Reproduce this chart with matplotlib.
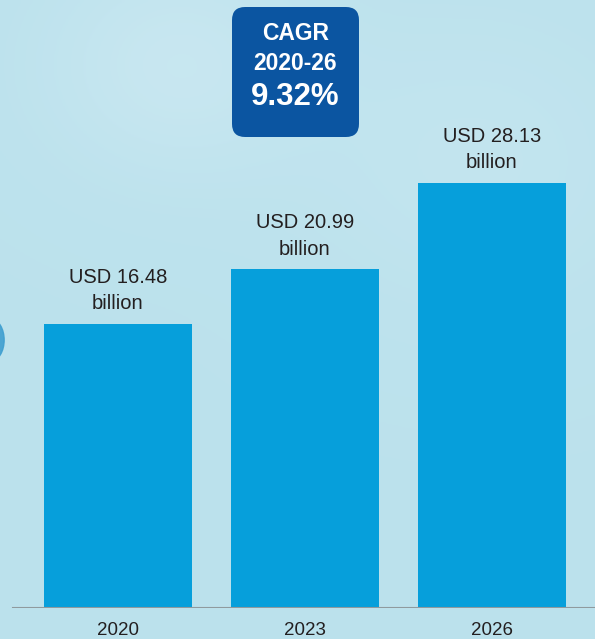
import matplotlib
matplotlib.use('Agg')
import matplotlib.pyplot as plt
from matplotlib.patches import FancyBboxPatch, Ellipse
import numpy as np

plt.rcParams['font.family'] = ['Liberation Sans', 'DejaVu Sans']

# Data
years = ['2020', '2023', '2026']
values = [16.48, 20.99, 28.13]
labels = ['USD 16.48\nbillion', 'USD 20.99\nbillion', 'USD 28.13\nbillion']
cagr_lines = ['CAGR', '2020-26']
cagr_value = '9.32%'

bg = '#bde3ee'
bar_color = '#069fdb'
box_color = '#0b55a1'

fig = plt.figure(figsize=(5.95, 6.39), dpi=100)
fig.patch.set_facecolor(bg)

# soft background gradient
bg_ax = fig.add_axes([0, 0, 1, 1], zorder=0)
yy, xx = np.mgrid[0:1:200j, 0:1:200j]
glow = np.exp(-((xx - 0.3) ** 2 / 0.05 + (yy - 0.1) ** 2 / 0.03)) * 0.45 \
     + np.exp(-((xx - 0.8) ** 2 / 0.08 + (yy - 0.25) ** 2 / 0.05)) * 0.25
base = np.array([0.737, 0.886, 0.929])
light = np.array([0.84, 0.93, 0.96])
img = base + glow[..., None] * (light - base)
bg_ax.imshow(np.clip(img, 0, 1), extent=[0, 1, 0, 1], aspect='auto', origin='upper')
bg_ax.add_patch(Ellipse((-0.014, 1 - 340 / 639), 0.042, 0.064, color='#3f9fd0', alpha=0.9))
bg_ax.set_xlim(0, 1)
bg_ax.set_ylim(0, 1)
bg_ax.axis('off')

ax = fig.add_axes([0, 31 / 639, 1, 608 / 639], zorder=1)
ax.patch.set_alpha(0)
ymin = -7.0
x = np.arange(len(years))
ax.bar(x, np.array(values) - ymin, bottom=ymin, width=0.79, color=bar_color, zorder=2)
ax.set_xlim(-0.631, 2.551)
ax.set_ylim(ymin, 43.2)

for xi, v, lab in zip(x, values, labels):
    ax.annotate(lab, (xi, v), xytext=(0, 7.5), textcoords='offset points',
                ha='center', va='bottom', fontsize=14.5, color='#231f20',
                linespacing=1.5)

ax.axhline(ymin, xmin=13 / 595, xmax=1, color='#8f9a9e', lw=1.5, zorder=3)

ax.set_xticks(x)
ax.set_xticklabels(years, fontsize=13.5, color='#231f20')
ax.tick_params(axis='x', length=0, pad=10)
ax.set_yticks([])
for s in ax.spines.values():
    s.set_visible(False)

# CAGR box
box = FancyBboxPatch((232 / 595, 1 - 137 / 639), 127 / 595, 130 / 639,
                     boxstyle='round,pad=0,rounding_size=0.022',
                     transform=fig.transFigure, facecolor=box_color,
                     edgecolor='none', zorder=5, mutation_aspect=595 / 639)
fig.patches.append(box)
fig.text(295.5 / 595, 1 - 33 / 639, cagr_lines[0], ha='center', va='center',
         fontsize=16.5, fontweight='bold', color='white', zorder=6)
fig.text(295.5 / 595, 1 - 63 / 639, cagr_lines[1], ha='center', va='center',
         fontsize=16.5, fontweight='bold', color='white', zorder=6)
fig.text(295.5 / 595, 1 - 97 / 639, cagr_value, ha='center', va='center',
         fontsize=22.5, fontweight='bold', color='white', zorder=6)

fig.savefig('out.png', dpi=100, facecolor=bg)
